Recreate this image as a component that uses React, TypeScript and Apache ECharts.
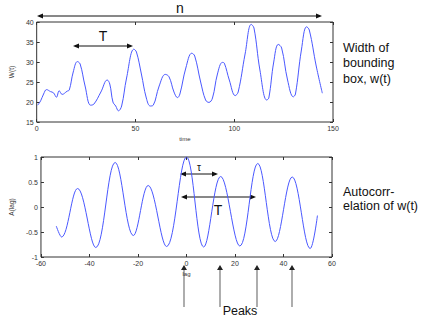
import React, { useEffect, useRef } from "react";
import * as echarts from "echarts";

// Top panel: width of bounding box over time
const timeSteps = [0.5, 2, 3.5, 5, 7, 8.5, 10, 11.4, 12.9, 15.4, 16.5, 18.5, 20.6, 22, 24.5, 27.3, 29, 32.5, 35.7, 37, 38.6, 40, 41.4, 43, 45.5, 49.2, 50.5, 53, 55.5, 57.5, 59, 62, 65.1, 67, 69.5, 71.3, 72.5, 75.5, 78.5, 80, 83, 85.5, 87.2, 89, 91.5, 94, 95, 97.5, 100.5, 102, 105.5, 108.6, 110, 113, 116.4, 117.5, 120, 122.3, 124, 127, 129.9, 131, 134, 136.6, 138, 141.5, 144.6];
const widthValues = [19.2, 20.3, 22, 23.1, 22.6, 22.3, 21.2, 22.8, 21.9, 22.7, 23, 27.5, 30.1, 29.5, 24, 19.2, 19.5, 22.5, 25.5, 24.5, 20, 19, 17.8, 19, 26, 33.2, 32.5, 27, 21, 19, 19.2, 24, 26.9, 26.3, 22.5, 21.1, 22, 28.5, 32.2, 31.5, 25, 20.5, 19.9, 21, 27, 29.9, 29.7, 25.5, 21.6, 22.5, 32, 39.4, 38.5, 28, 20.5, 21, 30, 34.4, 33.5, 25.5, 21.3, 22, 33, 38.8, 38, 29, 22.2];

// Bottom panel: autocorrelation of w(t)
const lags = [-53.7, -51.5, -44.9, -37.4, -29.4, -21.9, -15.8, -8.2, 0, 7.1, 14.1, 22, 29.4, 36.6, 43.6, 51, 54];
const acfValues = [-0.38, -0.6, 0.37, -0.81, 0.89, -0.57, 0.43, -0.79, 1.0, -0.8, 0.61, -0.78, 0.87, -0.69, 0.6, -0.83, -0.17];

const topXTicks = { min: 0, max: 150, interval: 50 };
const topYTicks = { min: 15, max: 40, interval: 5 };
const botXTicks = { min: -60, max: 60, interval: 20 };
const botYTicks = { min: -1, max: 1, interval: 0.5 };

const FRAME = "#333";
const FONT = "'Liberation Sans', Arial, sans-serif";
const LINE_COLOR = "#4a58ff";

function hArrow(x1: number, x2: number, y: number, color = "#111") {
  const L = 6, W = 2.5;
  return [
    { type: "line", shape: { x1: x1 + 2, y1: y, x2: x2 - 2, y2: y }, style: { stroke: color, lineWidth: 1 }, silent: true },
    { type: "polygon", shape: { points: [[x1, y], [x1 + L, y - W], [x1 + L, y + W]] }, style: { fill: color }, silent: true },
    { type: "polygon", shape: { points: [[x2, y], [x2 - L, y - W], [x2 - L, y + W]] }, style: { fill: color }, silent: true },
  ];
}

function upArrow(x: number, yBottom: number, yTop: number) {
  return [
    { type: "line", shape: { x1: x, y1: yBottom, x2: x, y2: yTop + 4 }, style: { stroke: "#777", lineWidth: 1.2 }, silent: true },
    { type: "polygon", shape: { points: [[x, yTop], [x - 3, yTop + 5], [x + 3, yTop + 5]] }, style: { fill: "#222" }, silent: true },
  ];
}

function txt(x: number, y: number, text: string, fontSize: number, align = "center", verticalAlign = "middle", lineHeight?: number) {
  return {
    type: "text",
    x,
    y,
    silent: true,
    style: { text, fontSize, fontFamily: FONT, fill: "#111", align, verticalAlign, lineHeight },
  };
}

function makeX(gridIndex: number, ticks: any, position: string, withLabels: boolean, name?: string) {
  return {
    type: "value",
    gridIndex,
    position,
    ...ticks,
    axisLine: { show: false, onZero: false },
    axisTick: { show: true, inside: true, length: 3, lineStyle: { color: FRAME } },
    axisLabel: { show: withLabels, fontSize: 7, color: "#333", margin: 3, fontFamily: FONT },
    splitLine: { show: false },
    name: withLabels ? name : undefined,
    nameLocation: "middle",
    nameGap: 14,
    nameTextStyle: { fontSize: 6, color: "#333", fontFamily: FONT },
  };
}

function makeY(gridIndex: number, ticks: any, position: string, withLabels: boolean, name?: string, nameGap = 16) {
  return {
    type: "value",
    gridIndex,
    position,
    ...ticks,
    axisLine: { show: false, onZero: false },
    axisTick: { show: true, inside: true, length: 3, lineStyle: { color: FRAME } },
    axisLabel: { show: withLabels, fontSize: 7, color: "#333", margin: 3, fontFamily: FONT },
    splitLine: { show: false },
    name: withLabels ? name : undefined,
    nameLocation: "middle",
    nameRotate: 90,
    nameGap,
    nameTextStyle: { fontSize: 6.5, color: "#333", fontFamily: FONT },
  };
}

export default function App() {
  const ref = useRef<HTMLDivElement>(null);
  useEffect(() => {
    if (!ref.current) return;
    const chart = echarts.init(ref.current, undefined, { renderer: "svg" });
    const topData = timeSteps.map((t, i) => [t, widthValues[i]]);
    const botData = lags.map((l, i) => [l, acfValues[i]]);
    const graphics: any[] = [
      ...hArrow(37, 322, 16),
      txt(180, 8, "n", 14),
      ...hArrow(73, 133, 46),
      txt(103, 36, "T", 14),
      ...hArrow(180, 218, 174),
      txt(199, 167, "τ", 10),
      ...hArrow(181, 256, 197),
      txt(218, 210, "T", 14),
      ...upArrow(184, 307, 265),
      ...upArrow(220, 307, 265),
      ...upArrow(257, 307, 265),
      ...upArrow(292, 307, 265),
      txt(240, 311, "Peaks", 12.5),
      txt(343, 40, "Width of\nbounding\nbox, w(t)", 12.5, "left", "top", 15.5),
      txt(343, 184.5, "Autocorr-\nelation of w(t)", 12.5, "left", "top", 14),
    ];
    chart.setOption({
      animation: false,
      backgroundColor: "#fff",
      grid: [
        { left: 35, top: 22, width: 298, height: 100, show: true, borderColor: FRAME, borderWidth: 1 },
        { left: 35, top: 157, width: 297, height: 100, show: true, borderColor: FRAME, borderWidth: 1 },
      ],
      xAxis: [
        makeX(0, topXTicks, "bottom", true, "time"),
        makeX(0, topXTicks, "top", false),
        makeX(1, botXTicks, "bottom", true, "lag"),
        makeX(1, botXTicks, "top", false),
      ],
      yAxis: [
        makeY(0, topYTicks, "left", true, "W(t)", 15),
        makeY(0, topYTicks, "right", false),
        makeY(1, botYTicks, "left", true, "A(lag)", 18),
        makeY(1, botYTicks, "right", false),
      ],
      series: [
        {
          type: "line",
          xAxisIndex: 0,
          yAxisIndex: 0,
          data: topData,
          smooth: 0.4,
          showSymbol: false,
          lineStyle: { color: LINE_COLOR, width: 1 },
        },
        {
          type: "line",
          xAxisIndex: 2,
          yAxisIndex: 2,
          data: botData,
          smooth: 0.38,
          showSymbol: false,
          lineStyle: { color: LINE_COLOR, width: 1 },
        },
      ],
      graphic: graphics,
    });
    return () => chart.dispose();
  }, []);
  return (
    <div
      ref={ref}
      style={{ position: "absolute", left: 0, top: 0, width: 424, height: 322, background: "#fff" }}
    />
  );
}
